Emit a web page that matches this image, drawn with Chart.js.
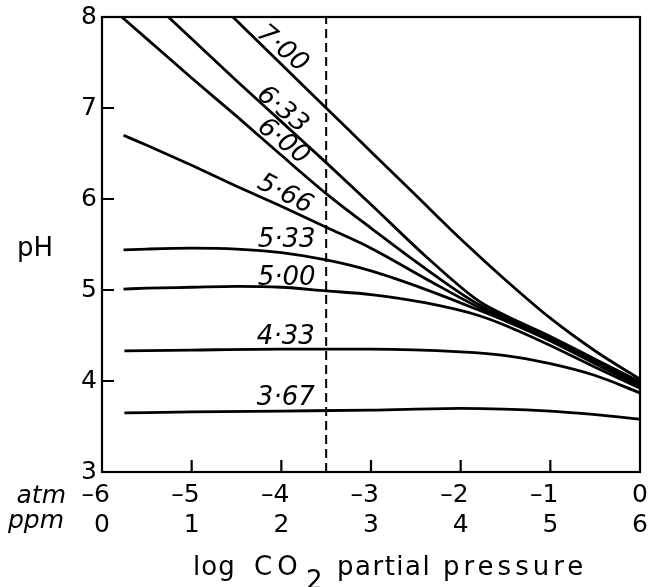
<!DOCTYPE html>
<html>
<head>
<meta charset="utf-8">
<script src="https://cdn.jsdelivr.net/npm/chart.js@4.4.1/dist/chart.umd.min.js"></script>
<style>
body{margin:0;background:#fff;}
</style>
</head>
<body>
<canvas id="phChart" width="650" height="587"></canvas>
<script>
// log CO2 partial pressure (atm) for each curve, and the pH
const x700 = [-4.54, -4, -3.5, -3, -2.5, -2, -1.5, -1, -0.5, 0];
const y700 = [8.0, 7.48, 7.0, 6.52, 6.04, 5.56, 5.11, 4.69, 4.33, 4.02];

const x633 = [-5.26, -5, -4.5, -4, -3.5, -3, -2.4, -1.8, -1.5, -1, -0.5, 0];
const y633 = [8.0, 7.76, 7.30, 6.85, 6.40, 5.94, 5.38, 4.88, 4.72, 4.49, 4.24, 3.99];

const x600 = [-5.78, -5.5, -5, -4.5, -4, -3.5, -3, -2.4, -1.8, -1.5, -1, -0.5, 0];
const y600 = [8.0, 7.76, 7.33, 6.91, 6.48, 6.06, 5.68, 5.24, 4.84, 4.70, 4.47, 4.22, 3.97];

const x566 = [-5.76, -5.5, -5, -4.5, -4, -3.5, -3, -2.4, -1.8, -1.5, -1, -0.5, 0];
const y566 = [6.70, 6.59, 6.37, 6.14, 5.92, 5.69, 5.46, 5.13, 4.81, 4.68, 4.46, 4.20, 3.95];

const x533 = [-5.76, -5.5, -5, -4.5, -4, -3.5, -3, -2.4, -1.8, -1.5, -1, -0.5, 0];
const y533 = [5.44, 5.45, 5.46, 5.45, 5.41, 5.33, 5.21, 5.01, 4.78, 4.66, 4.44, 4.19, 3.94];

const x500 = [-5.76, -5.5, -5, -4.5, -4, -3.5, -3, -2.4, -1.8, -1.5, -1, -0.5, 0];
const y500 = [5.01, 5.02, 5.03, 5.04, 5.03, 4.99, 4.95, 4.86, 4.72, 4.61, 4.39, 4.15, 3.92];

const x433 = [-5.75, -5, -4, -3, -2, -1.5, -1, -0.5, 0];
const y433 = [4.33, 4.34, 4.35, 4.35, 4.32, 4.28, 4.19, 4.06, 3.87];

const x367 = [-5.75, -5, -4, -3, -2, -1, -0.5, 0];
const y367 = [3.65, 3.66, 3.67, 3.68, 3.70, 3.67, 3.63, 3.58];

// dashed reference line
const dashX = [-3.5, -3.5];
const dashY = [3, 8];

const curveNames = ['7·00', '6·33', '6·00', '5·66', '5·33', '5·00', '4·33', '3·67'];
const curveXs = [x700, x633, x600, x566, x533, x500, x433, x367];
const curveYs = [y700, y633, y600, y566, y533, y500, y433, y367];

const pts = (xs, ys) => xs.map((x, i) => ({x: x, y: ys[i]}));

const datasets = curveNames.map((name, i) => ({
  label: name,
  data: pts(curveXs[i], curveYs[i]),
  borderColor: '#000',
  borderWidth: 2.8,
  pointRadius: 0,
  cubicInterpolationMode: 'monotone',
  fill: false
}));
datasets.push({
  label: 'dash',
  data: pts(dashX, dashY),
  borderColor: '#000',
  borderWidth: 2,
  borderDash: [9, 5],
  pointRadius: 0,
  tension: 0
});

// where each curve's number sits (data coords) and its tilt
const tagSpots = [
  [-3.99, 7.65, 40], [-3.99, 6.98, 40], [-3.98, 6.63, 38], [-3.96, 6.05, 27],
  [-3.94, 5.55, 0], [-3.94, 5.13, 0], [-3.95, 4.48, 0], [-3.95, 3.81, 0]
];

const decor = {
  id: 'decor',
  afterDraw(chart) {
    const {ctx, chartArea: a} = chart;
    const xs = chart.scales.x, ys = chart.scales.y;
    ctx.save();
    ctx.strokeStyle = '#000';
    ctx.lineWidth = 2.2;
    ctx.strokeRect(a.left, a.top, a.right - a.left, a.bottom - a.top);

    // inward tick marks
    ctx.beginPath();
    xs.ticks.forEach(t => {
      if (t.value <= xs.min || t.value >= xs.max) return;
      const px = xs.getPixelForValue(t.value);
      ctx.moveTo(px, a.bottom); ctx.lineTo(px, a.bottom - 12);
    });
    ys.ticks.forEach(t => {
      if (t.value <= ys.min || t.value >= ys.max) return;
      const py = ys.getPixelForValue(t.value);
      ctx.moveTo(a.left, py); ctx.lineTo(a.left + 12, py);
    });
    ctx.stroke();

    ctx.fillStyle = '#000';
    ctx.font = 'oblique 26px "DejaVu Sans"';
    ctx.textAlign = 'center';
    ctx.textBaseline = 'middle';
    curveNames.forEach((name, i) => {
      const s = tagSpots[i];
      ctx.save();
      ctx.translate(xs.getPixelForValue(s[0]), ys.getPixelForValue(s[1]));
      ctx.rotate(s[2] * Math.PI / 180);
      ctx.fillText(name, 0, 0);
      ctx.restore();
    });

    // axis names
    ctx.textAlign = 'left';
    ctx.textBaseline = 'alphabetic';
    ctx.font = '26px "DejaVu Sans"';
    ctx.fillText('pH', 17, 256);

    ctx.textAlign = 'right';
    ctx.font = 'oblique 25px "DejaVu Sans"';
    ctx.fillText('atm', 66, 503);
    ctx.fillText('ppm', 64, 528);

    ctx.textAlign = 'left';
    ctx.font = '26px "DejaVu Sans"';
    ctx.letterSpacing = '1px';
    ctx.fillText('log', 193, 575);
    ctx.letterSpacing = '5px';
    ctx.fillText('CO', 254, 575);
    ctx.letterSpacing = '0px';
    ctx.fillText('2', 306, 589);
    ctx.letterSpacing = '1.5px';
    ctx.fillText('partial', 337, 575);
    ctx.letterSpacing = '4px';
    ctx.fillText('pressure', 443, 575);
    ctx.restore();
  }
};

new Chart(document.getElementById('phChart'), {
  type: 'line',
  data: {datasets: datasets},
  options: {
    responsive: false,
    animation: false,
    layout: {padding: {top: 17, right: 10, left: 0, bottom: 0}},
    plugins: {legend: {display: false}, tooltip: {enabled: false}},
    scales: {
      x: {
        type: 'linear', min: -6, max: 0,
        afterFit: s => { s.height = 115; s.paddingLeft = 0; s.paddingRight = 0; },
        grid: {display: false, drawTicks: false, tickLength: 0},
        border: {display: false},
        ticks: {
          stepSize: 1, autoSkip: false, maxRotation: 0, padding: 8, color: '#000',
          font: {family: 'DejaVu Sans', size: 25, lineHeight: 1.2},
          callback: v => [v < 0 ? '–' + Math.abs(v) + '\u2002' : String(v), String(v + 6)]
        }
      },
      y: {
        min: 3, max: 8,
        afterFit: s => { s.width = 102; s.paddingTop = 0; s.paddingBottom = 0; },
        grid: {display: false, drawTicks: false, tickLength: 0},
        border: {display: false},
        ticks: {
          stepSize: 1, padding: 5, color: '#000',
          font: {family: 'DejaVu Sans', size: 25}
        }
      }
    }
  },
  plugins: [decor]
});
</script>
</body>
</html>
